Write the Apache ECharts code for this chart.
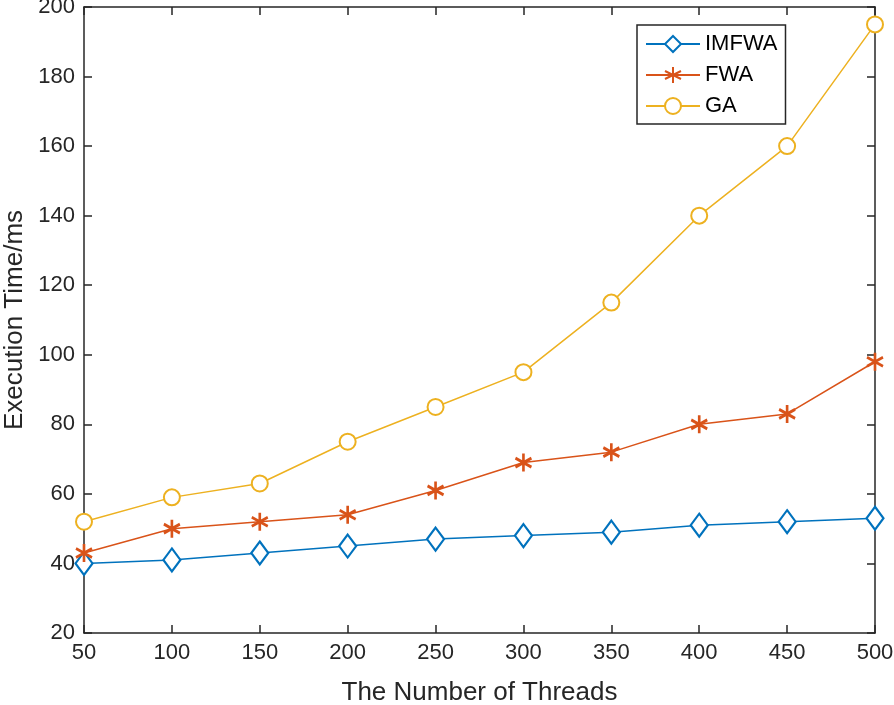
<!DOCTYPE html>
<html>
<head>
<meta charset="utf-8">
<script src="https://cdn.jsdelivr.net/npm/echarts@6/dist/echarts.min.js"></script>
<style>
html, body { margin: 0; padding: 0; background: #fff; }
#main { width: 894px; height: 705px; }
</style>
</head>
<body>
<div id="main"></div>
<script>
// thread counts
var threads = [50, 100, 150, 200, 250, 300, 350, 400, 450, 500];
// execution time (ms)
var imfwa = [40, 41, 43, 45, 47, 48, 49, 51, 52, 53];
var fwa = [43, 50, 52, 54, 61, 69, 72, 80, 83, 98];
var ga = [52, 59, 63, 75, 85, 95, 115, 140, 160, 195];

var asterisk = 'path://M0,-10L0,10M-8.66,-5L8.66,5M-8.66,5L8.66,-5';

function pairs(vals) {
    var out = [];
    for (var i = 0; i < threads.length; i++) {
        out.push([threads[i], vals[i]]);
    }
    return out;
}

var font = '"Liberation Sans", Arial, Helvetica, sans-serif';
var axisCol = '#262626';

function makeAxis(pos, isX, show) {
    var ax = {
        type: 'value',
        position: pos,
        axisLine: {show: true, onZero: false, lineStyle: {color: axisCol, width: 1.5}},
        axisTick: {show: true, inside: true, length: 8, lineStyle: {color: axisCol, width: 1.5}},
        splitLine: {show: false},
        axisLabel: {show: show, color: axisCol, fontSize: 22, fontFamily: font, margin: 9}
    };
    if (isX) {
        ax.min = 50; ax.max = 500; ax.interval = 50;
    } else {
        ax.min = 20; ax.max = 200; ax.interval = 20;
    }
    return ax;
}

var xMain = makeAxis('bottom', true, true);
xMain.name = 'The Number of Threads';
xMain.nameLocation = 'middle';
xMain.nameGap = 47;
xMain.nameTextStyle = {color: axisCol, fontSize: 26, fontFamily: font};
var yMain = makeAxis('left', false, true);
yMain.name = 'Execution Time/ms';
yMain.nameLocation = 'middle';
yMain.nameGap = 55;
yMain.nameTextStyle = {color: axisCol, fontSize: 26, fontFamily: font};

var dom = document.getElementById('main');
var myChart = echarts.init(dom);
var option = {
    animation: false,
    grid: {left: 84, right: 19, top: 7, bottom: 72, containLabel: false, outerBoundsMode: 'none'},
    xAxis: [xMain, makeAxis('top', true, false)],
    yAxis: [yMain, makeAxis('right', false, false)],
    legend: {
        orient: 'vertical',
        left: 637,
        top: 25,
        padding: [8, 8, 7, 8],
        itemGap: 9,
        itemWidth: 54,
        itemHeight: 20,
        backgroundColor: '#fff',
        borderColor: axisCol,
        borderWidth: 1.5,
        borderRadius: 0,
        textStyle: {color: '#000', fontSize: 22, fontFamily: font},
        data: ['IMFWA', 'FWA', 'GA']
    },
    series: [
        {
            name: 'IMFWA',
            type: 'line',
            data: pairs(imfwa),
            symbol: 'diamond',
            symbolSize: [17, 23],
            lineStyle: {color: '#0072BD', width: 1.5},
            itemStyle: {color: '#fff', borderColor: '#0072BD', borderWidth: 2.2}
        },
        {
            name: 'FWA',
            type: 'line',
            data: pairs(fwa),
            symbol: asterisk,
            symbolSize: [16, 18],
            lineStyle: {color: '#D95319', width: 1.5},
            itemStyle: {color: '#D95319', borderColor: '#D95319', borderWidth: 2.8}
        },
        {
            name: 'GA',
            type: 'line',
            data: pairs(ga),
            symbol: 'emptyCircle',
            symbolSize: 16,
            lineStyle: {color: '#EDB120', width: 1.5},
            itemStyle: {color: '#EDB120', borderColor: '#EDB120', borderWidth: 2.2}
        }
    ]
};
myChart.setOption(option, true);
</script>
</body>
</html>
